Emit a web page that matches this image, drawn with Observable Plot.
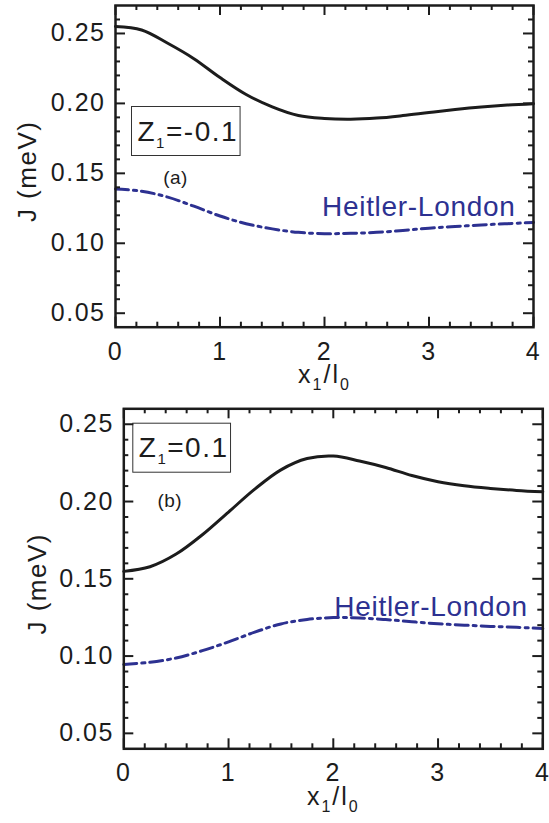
<!DOCTYPE html>
<html>
<head>
<meta charset="utf-8">
<script src="https://cdn.jsdelivr.net/npm/d3@7"></script>
<script src="https://cdn.jsdelivr.net/npm/@observablehq/plot@0.6"></script>
<style>
  html, body { margin: 0; padding: 0; background: #fff; color: #1c1c1c; }
  #chart { width: 549px; }
  #chart svg { display: block; overflow: visible; font-family: "Liberation Sans", Arial, Helvetica, sans-serif; }
  #chart g[aria-label="x-axis tick label"] text,
  #chart g[aria-label="y-axis tick label"] text { letter-spacing: 1.5px; }
</style>
</head>
<body>
<div id="chart"></div>
<script>
// Exchange coupling J versus dot displacement x1/l0, for two values of Z1.
const xPos = [0, 0.25, 0.5, 0.75, 1, 1.25, 1.5, 1.75, 2, 2.25, 2.5, 2.75, 3, 3.25, 3.5, 3.75, 4];

// Panel (a): Z1 = -0.1
const jFullA = [0.2550, 0.2525, 0.2430, 0.2320, 0.2185, 0.2064, 0.1975, 0.1913, 0.1892, 0.1887, 0.1895, 0.1913, 0.1935, 0.1956, 0.1974, 0.1988, 0.1998];
const jHLA   = [0.1388, 0.1372, 0.1330, 0.1265, 0.1195, 0.1140, 0.1103, 0.1078, 0.1069, 0.1071, 0.1078, 0.1092, 0.1108, 0.1120, 0.1131, 0.1140, 0.1149];

// Panel (b): Z1 = 0.1
const jFullB = [0.1548, 0.1578, 0.1660, 0.1785, 0.1932, 0.2080, 0.2205, 0.2278, 0.2294, 0.2262, 0.2220, 0.2168, 0.2128, 0.2102, 0.2085, 0.2072, 0.2063];
const jHLB   = [0.0946, 0.0960, 0.0988, 0.1035, 0.1092, 0.1155, 0.1208, 0.1237, 0.1249, 0.1246, 0.1236, 0.1222, 0.1209, 0.1200, 0.1192, 0.1186, 0.1178];

// Axis ticks
const xMajor = [0, 1, 2, 3, 4];
const xMinor = [0.2, 0.4, 0.6, 0.8, 1.2, 1.4, 1.6, 1.8, 2.2, 2.4, 2.6, 2.8, 3.2, 3.4, 3.6, 3.8];
const yMajor = [0.05, 0.10, 0.15, 0.20, 0.25];
const yMinorAll = d3.range(5, 27).filter(i => i % 5 !== 0).map(i => i / 100);

const ink = "#1c1c1c";
const navy = "#2d3191";

// Inward-pointing ticks on all four sides of the frame
function frameTicks(p, yMinor) {
  const H = p.height - p.m[0] - p.m[2];
  const W = 549 - p.m[1] - p.m[3];
  const st = { stroke: ink, strokeWidth: 2 };
  const marks = [];
  for (const [vals, len] of [[xMajor, 10], [xMinor, 5]]) {
    marks.push(Plot.tickX(vals, { x: d => d, insetTop: H - len, ...st }));
    marks.push(Plot.tickX(vals, { x: d => d, insetBottom: H - len, ...st }));
  }
  for (const [vals, len] of [[yMajor, 10], [yMinor, 5]]) {
    marks.push(Plot.tickY(vals, { y: d => d, insetRight: W - len, ...st }));
    marks.push(Plot.tickY(vals, { y: d => d, insetLeft: W - len, ...st }));
  }
  return marks;
}

function panel(p) {
  const yMinor = yMinorAll.filter(v => v > p.yDomain[0] + 1e-9 && v < p.yDomain[1] - 1e-9);
  return Plot.plot({
    width: 549,
    height: p.height,
    marginTop: p.m[0], marginRight: p.m[1], marginBottom: p.m[2], marginLeft: p.m[3],
    x: { domain: [0, 4] },
    y: { domain: p.yDomain },
    marks: [
      Plot.axisX(xMajor, { tickSize: 0, tickPadding: p.xPad, fontSize: 25, fill: ink, tickFormat: d3.format("d"), label: null }),
      Plot.axisY(yMajor, { tickSize: 0, tickPadding: 10, fontSize: 25, fill: ink, tickFormat: d3.format(".2f"), label: null }),
      Plot.line(xPos, { x: xPos, y: p.hl, stroke: navy, strokeWidth: 3, strokeDasharray: "13,5,3,5", curve: "catmull-rom" }),
      Plot.line(xPos, { x: xPos, y: p.full, stroke: ink, strokeWidth: 3, curve: "catmull-rom" }),
      Plot.frame({ stroke: ink, strokeWidth: 2.5 }),
      Plot.text([p.zText], { text: d => d, frameAnchor: "top-left", dx: p.zAt[0], dy: p.zAt[1], textAnchor: "start", lineAnchor: "bottom", fontSize: 28, fill: ink }),
      Plot.text([p.tag], { text: d => d, frameAnchor: "top-left", dx: p.tagAt[0], dy: p.tagAt[1], textAnchor: "middle", lineAnchor: "middle", fontSize: 19, fill: ink }),
      Plot.text(["Heitler-London"], { text: d => d, frameAnchor: "top-right", dx: p.hlAt[0], dy: p.hlAt[1], textAnchor: "end", lineAnchor: "bottom", fontSize: 28, fill: navy }),
      Plot.text(["x_1/l_0"], { text: d => d, frameAnchor: "bottom", dy: 56, textAnchor: "middle", lineAnchor: "bottom", fontSize: 25, fill: ink }),
      Plot.text(["J (meV)"], { text: d => d, frameAnchor: "left", dx: p.yLabDx, dy: 5, rotate: -90, textAnchor: "middle", lineAnchor: "middle", fontSize: 26, fill: ink }),
      ...frameTicks(p, yMinor)
    ]
  });
}

// Turn "_c" into a lowered, smaller character and box the Z1 annotation.
function finish(svg) {
  document.getElementById("chart").appendChild(svg);
  d3.select(svg).selectAll('g[aria-label="text"] text').each(function () {
    const t = this.textContent;
    const el = d3.select(this);
    const spacing = t.startsWith("Heitler") ? "0.7px" : t.startsWith("x_") ? "2px" : t.startsWith("(") && t.length === 3 ? "0.5px" : "1.5px";
    el.style("letter-spacing", spacing);
    if (!t.includes("_")) return;
    const parts = t.split(/_(.)/);
    const subSize = t.startsWith("Z_") ? 15 : 16;
    const shift = 7;
    el.text(null);
    parts.forEach((s, i) => {
      if (!s) return;
      const sp = el.append("tspan").text(s);
      if (i % 2) sp.attr("font-size", subSize).attr("dy", shift);
      else if (i > 0) sp.attr("dy", -shift);
    });
    if (t.startsWith("Z_")) {
      const b = this.getBBox();
      const r = document.createElementNS("http://www.w3.org/2000/svg", "rect");
      r.setAttribute("x", b.x - 6);
      r.setAttribute("y", b.y - 9);
      r.setAttribute("width", b.width + 8);
      r.setAttribute("height", b.height + 14);
      r.setAttribute("fill", "none");
      r.setAttribute("stroke", "#333");
      r.setAttribute("stroke-width", 1);
      const tr = this.getAttribute("transform");
      if (tr) r.setAttribute("transform", tr);
      this.parentNode.insertBefore(r, this);
    }
  });
}

finish(panel({
  height: 395, m: [5, 16, 68.3, 115], yDomain: [0.04, 0.27],
  full: jFullA, hl: jHLA, xPad: 15,
  zText: "Z_1=-0.1", zAt: [22, 135],
  tag: "(a)", tagAt: [60, 172],
  hlAt: [-18, 210], yLabDx: -87.5
}));

finish(panel({
  height: 428, m: [13.3, 6.7, 74.7, 123.3], yDomain: [0.04, 0.26],
  full: jFullB, hl: jHLB, xPad: 14,
  zText: "Z_1=0.1", zAt: [15, 48.4],
  tag: "(b)", tagAt: [46, 92],
  hlAt: [-15, 206.7], yLabDx: -86.3
}));
</script>
</body>
</html>
